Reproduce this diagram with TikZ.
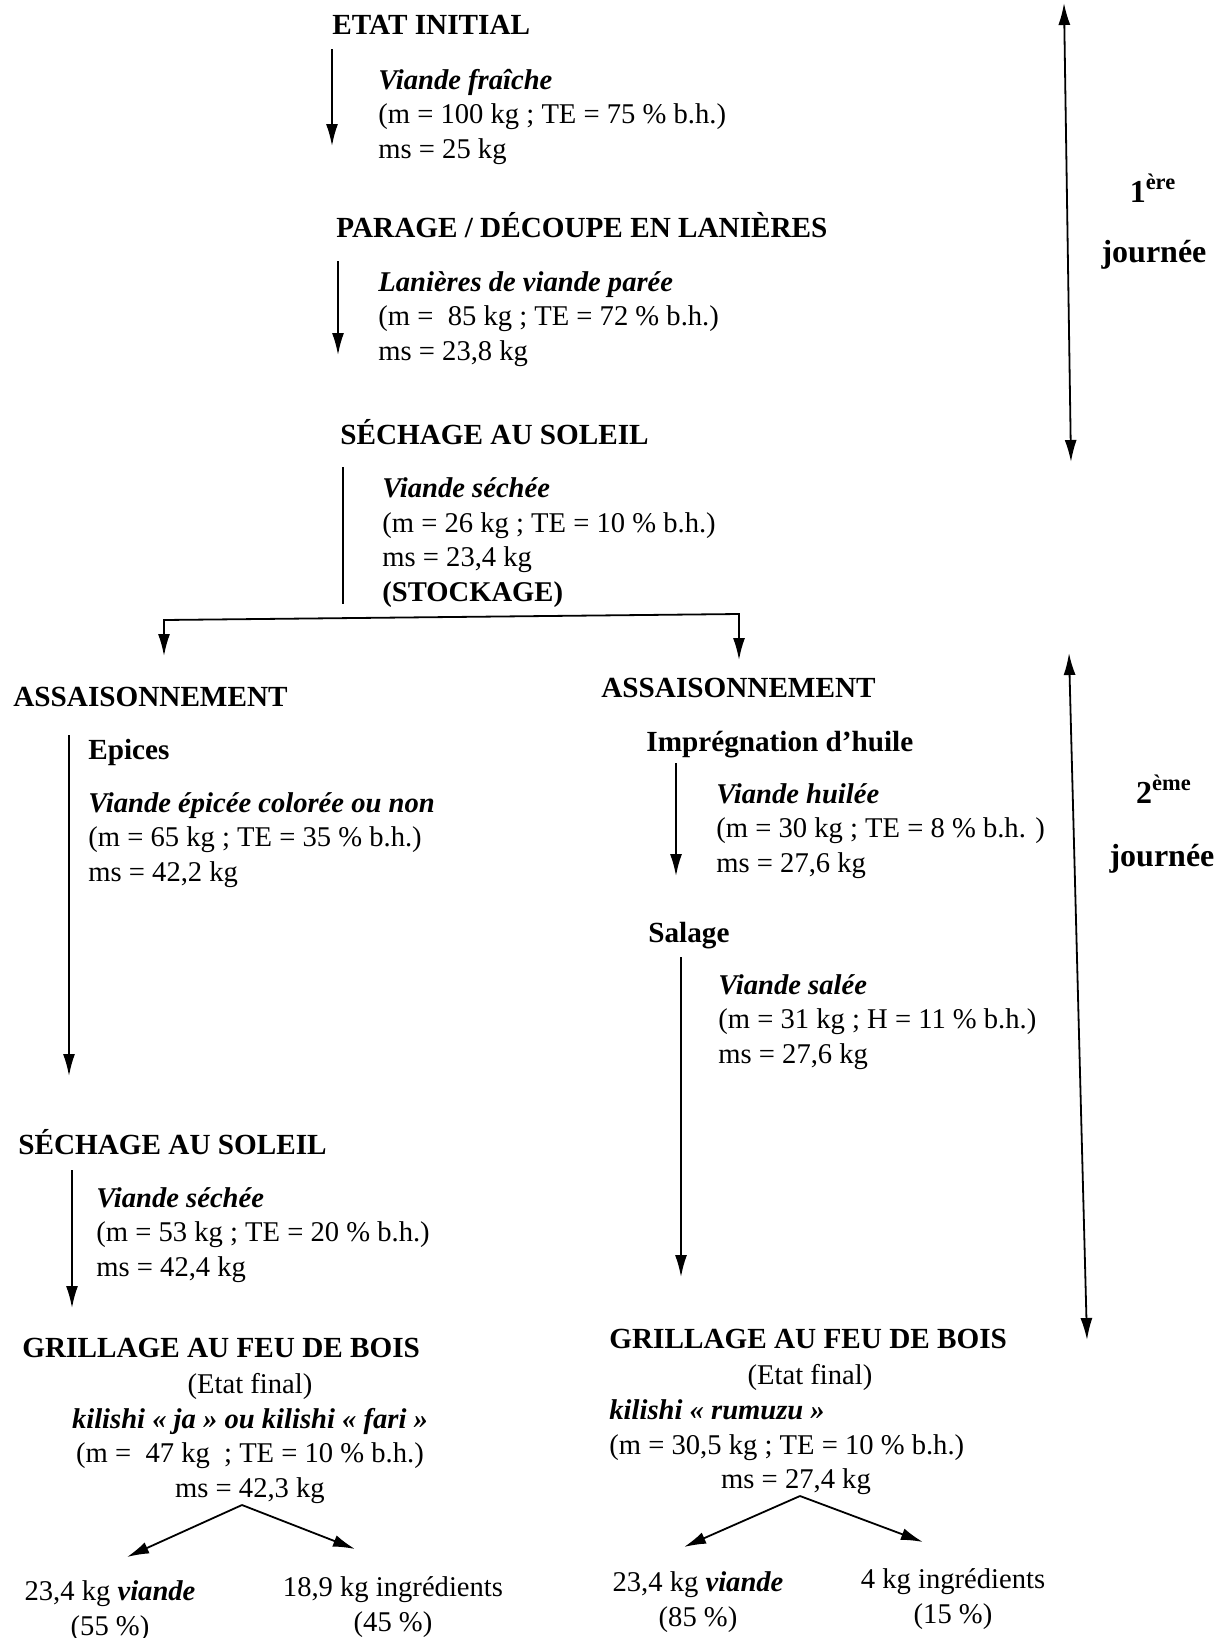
\documentclass[tikz,border=0pt]{standalone}
\usepackage{fontspec}
\setmainfont{Liberation Serif}
\usetikzlibrary{arrows.meta}

\newcommand{\bodysize}{\fontsize{14.3}{17.25}\selectfont}
\newcommand{\vbi}[1]{\textbf{\textit{#1}}}

\tikzset{
  stage/.style={font=\fontsize{14.6}{17.25}\selectfont\bfseries, anchor=base west, inner sep=0pt},
  info/.style={font=\bodysize, anchor=base west, align=left, inner sep=0pt},
  infoc/.style={font=\bodysize, anchor=base, align=center, inner sep=0pt},
  flow/.style={line width=0.9pt, -{Latex[length=11pt,width=6pt]}},
  twoway/.style={line width=0.9pt, {Latex[length=11pt,width=6pt]}-{Latex[length=11pt,width=6pt]}},
  daytext/.style={font=\fontsize{16}{19}\selectfont\bfseries, anchor=base, inner sep=0pt},
}

\begin{document}
\begin{tikzpicture}[x=0.5pt, y=-0.5pt]
\useasboundingbox (0,0) rectangle (1229,1638);

% first day (multi-line blocks sit on their last baseline)
\node[stage] (etat) at (332,34) {ETAT INITIAL};
\node[info] (fresh) at (378,158) {\vbi{Viande fraîche}\\(m = 100 kg ; TE = 75 \% b.h.)\\ms = 25 kg};
\node[stage] (parage) at (336,237) {PARAGE / DÉCOUPE EN LANIÈRES};
\node[info] (strips) at (378,360) {\vbi{Lanières de viande parée}\\(m = \ 85 kg ; TE = 72 \% b.h.)\\ms = 23,8 kg};
\node[stage] (sun1) at (340,444) {SÉCHAGE AU SOLEIL};
\node[info] (dried1) at (382,601) {\vbi{Viande séchée}\\(m = 26 kg ; TE = 10 \% b.h.)\\ms = 23,4 kg\\\textbf{(STOCKAGE)}};

\coordinate (s1) at (332,49); \coordinate (e1) at (332,146);
\coordinate (s2) at (338,261); \coordinate (e2) at (338,355);
\coordinate (s3) at (343,467); \coordinate (e3) at (343,604);
\draw[flow] (s1) -- (e1);
\draw[flow] (s2) -- (e2);
\draw[line width=0.9pt] (s3) -- (e3);

% branching
\coordinate (bl) at (164,620); \coordinate (br) at (739,614);
\coordinate (tl) at (164,656); \coordinate (tr) at (739,660);
\draw[twoway] (tl) -- (bl) -- (br) -- (tr);

% left branch
\node[stage] (seasL) at (13,706) {ASSAISONNEMENT};
\node[stage] (spice) at (88,759) {Epices};
\node[info] (spiced) at (88,881) {\vbi{Viande épicée colorée ou non}\\(m = 65 kg ; TE = 35 \% b.h.)\\ms = 42,2 kg};
\node[stage] (sun2) at (18,1154) {SÉCHAGE AU SOLEIL};
\node[info] (dried2) at (96,1276) {\vbi{Viande séchée}\\(m = 53 kg ; TE = 20 \% b.h.)\\ms = 42,4 kg};
\node[stage] (grillL) at (22,1357) {GRILLAGE AU FEU DE BOIS};
\node[infoc] (finalL) at (250,1497) {(Etat final)\\\vbi{kilishi « ja » ou kilishi « fari »}\\(m = \ 47 kg \ ; TE = 10 \% b.h.)\\ms = 42,3 kg};
\node[infoc] (meatL) at (110,1635) {23,4 kg \vbi{viande}\\(55 \%)};
\node[infoc] (ingrL) at (393,1631) {18,9 kg ingrédients\\(45 \%)};

\coordinate (s4) at (69,735); \coordinate (e4) at (69,1076);
\coordinate (s5) at (72,1170); \coordinate (e5) at (72,1308);
\draw[flow] (s4) -- (e4);
\draw[flow] (s5) -- (e5);
\coordinate (apexL) at (242,1505);
\coordinate (tipLL) at (127,1557); \coordinate (tipLR) at (355,1549);
\draw[flow] (apexL) -- (tipLL);
\draw[flow] (apexL) -- (tipLR);

% right branch
\node[stage] (seasR) at (601,697) {ASSAISONNEMENT};
\node[stage] (oil) at (646,751) {Imprégnation d'huile};
\node[info] (oiled) at (716,872) {\vbi{Viande huilée}\\(m = 30 kg ; TE = 8 \% b.h. )\\ms = 27,6 kg};
\node[stage] (salt) at (648,942) {Salage};
\node[info] (salted) at (718,1063) {\vbi{Viande salée}\\(m = 31 kg ; H = 11 \% b.h.)\\ms = 27,6 kg};
\node[stage] (grillR) at (609,1348) {GRILLAGE AU FEU DE BOIS};
\node[infoc] (finalR) at (810,1384) {(Etat final)};
\node[info] (kiliR) at (609,1454) {\vbi{kilishi « rumuzu »}\\(m = 30,5 kg ; TE = 10 \% b.h.)};
\node[infoc] (msR) at (796,1488) {ms = 27,4 kg};
\node[infoc] (meatR) at (698,1626) {23,4 kg \vbi{viande}\\(85 \%)};
\node[infoc] (ingrR) at (953,1623) {4 kg ingrédients\\(15 \%)};

\coordinate (s6) at (676,763); \coordinate (e6) at (676,876);
\coordinate (s7) at (681,957); \coordinate (e7) at (681,1277);
\draw[flow] (s6) -- (e6);
\draw[flow] (s7) -- (e7);
\coordinate (apexR) at (800,1496);
\coordinate (tipRL) at (684,1547); \coordinate (tipRR) at (923,1542);
\draw[flow] (apexR) -- (tipRL);
\draw[flow] (apexR) -- (tipRR);

% days
\coordinate (d1a) at (1064,3); \coordinate (d1b) at (1071,462);
\coordinate (d2a) at (1069,653); \coordinate (d2b) at (1087,1340);
\draw[twoway] (d1a) -- (d1b);
\draw[twoway] (d2a) -- (d2b);
\node[daytext] (day1) at (1153,202) {1\textsuperscript{ère}};
\node[daytext] (jour1) at (1154,262) {journée};
\node[daytext] (day2) at (1164,803) {2\textsuperscript{ème}};
\node[daytext] (jour2) at (1162,866) {journée};
\end{tikzpicture}
\end{document}
